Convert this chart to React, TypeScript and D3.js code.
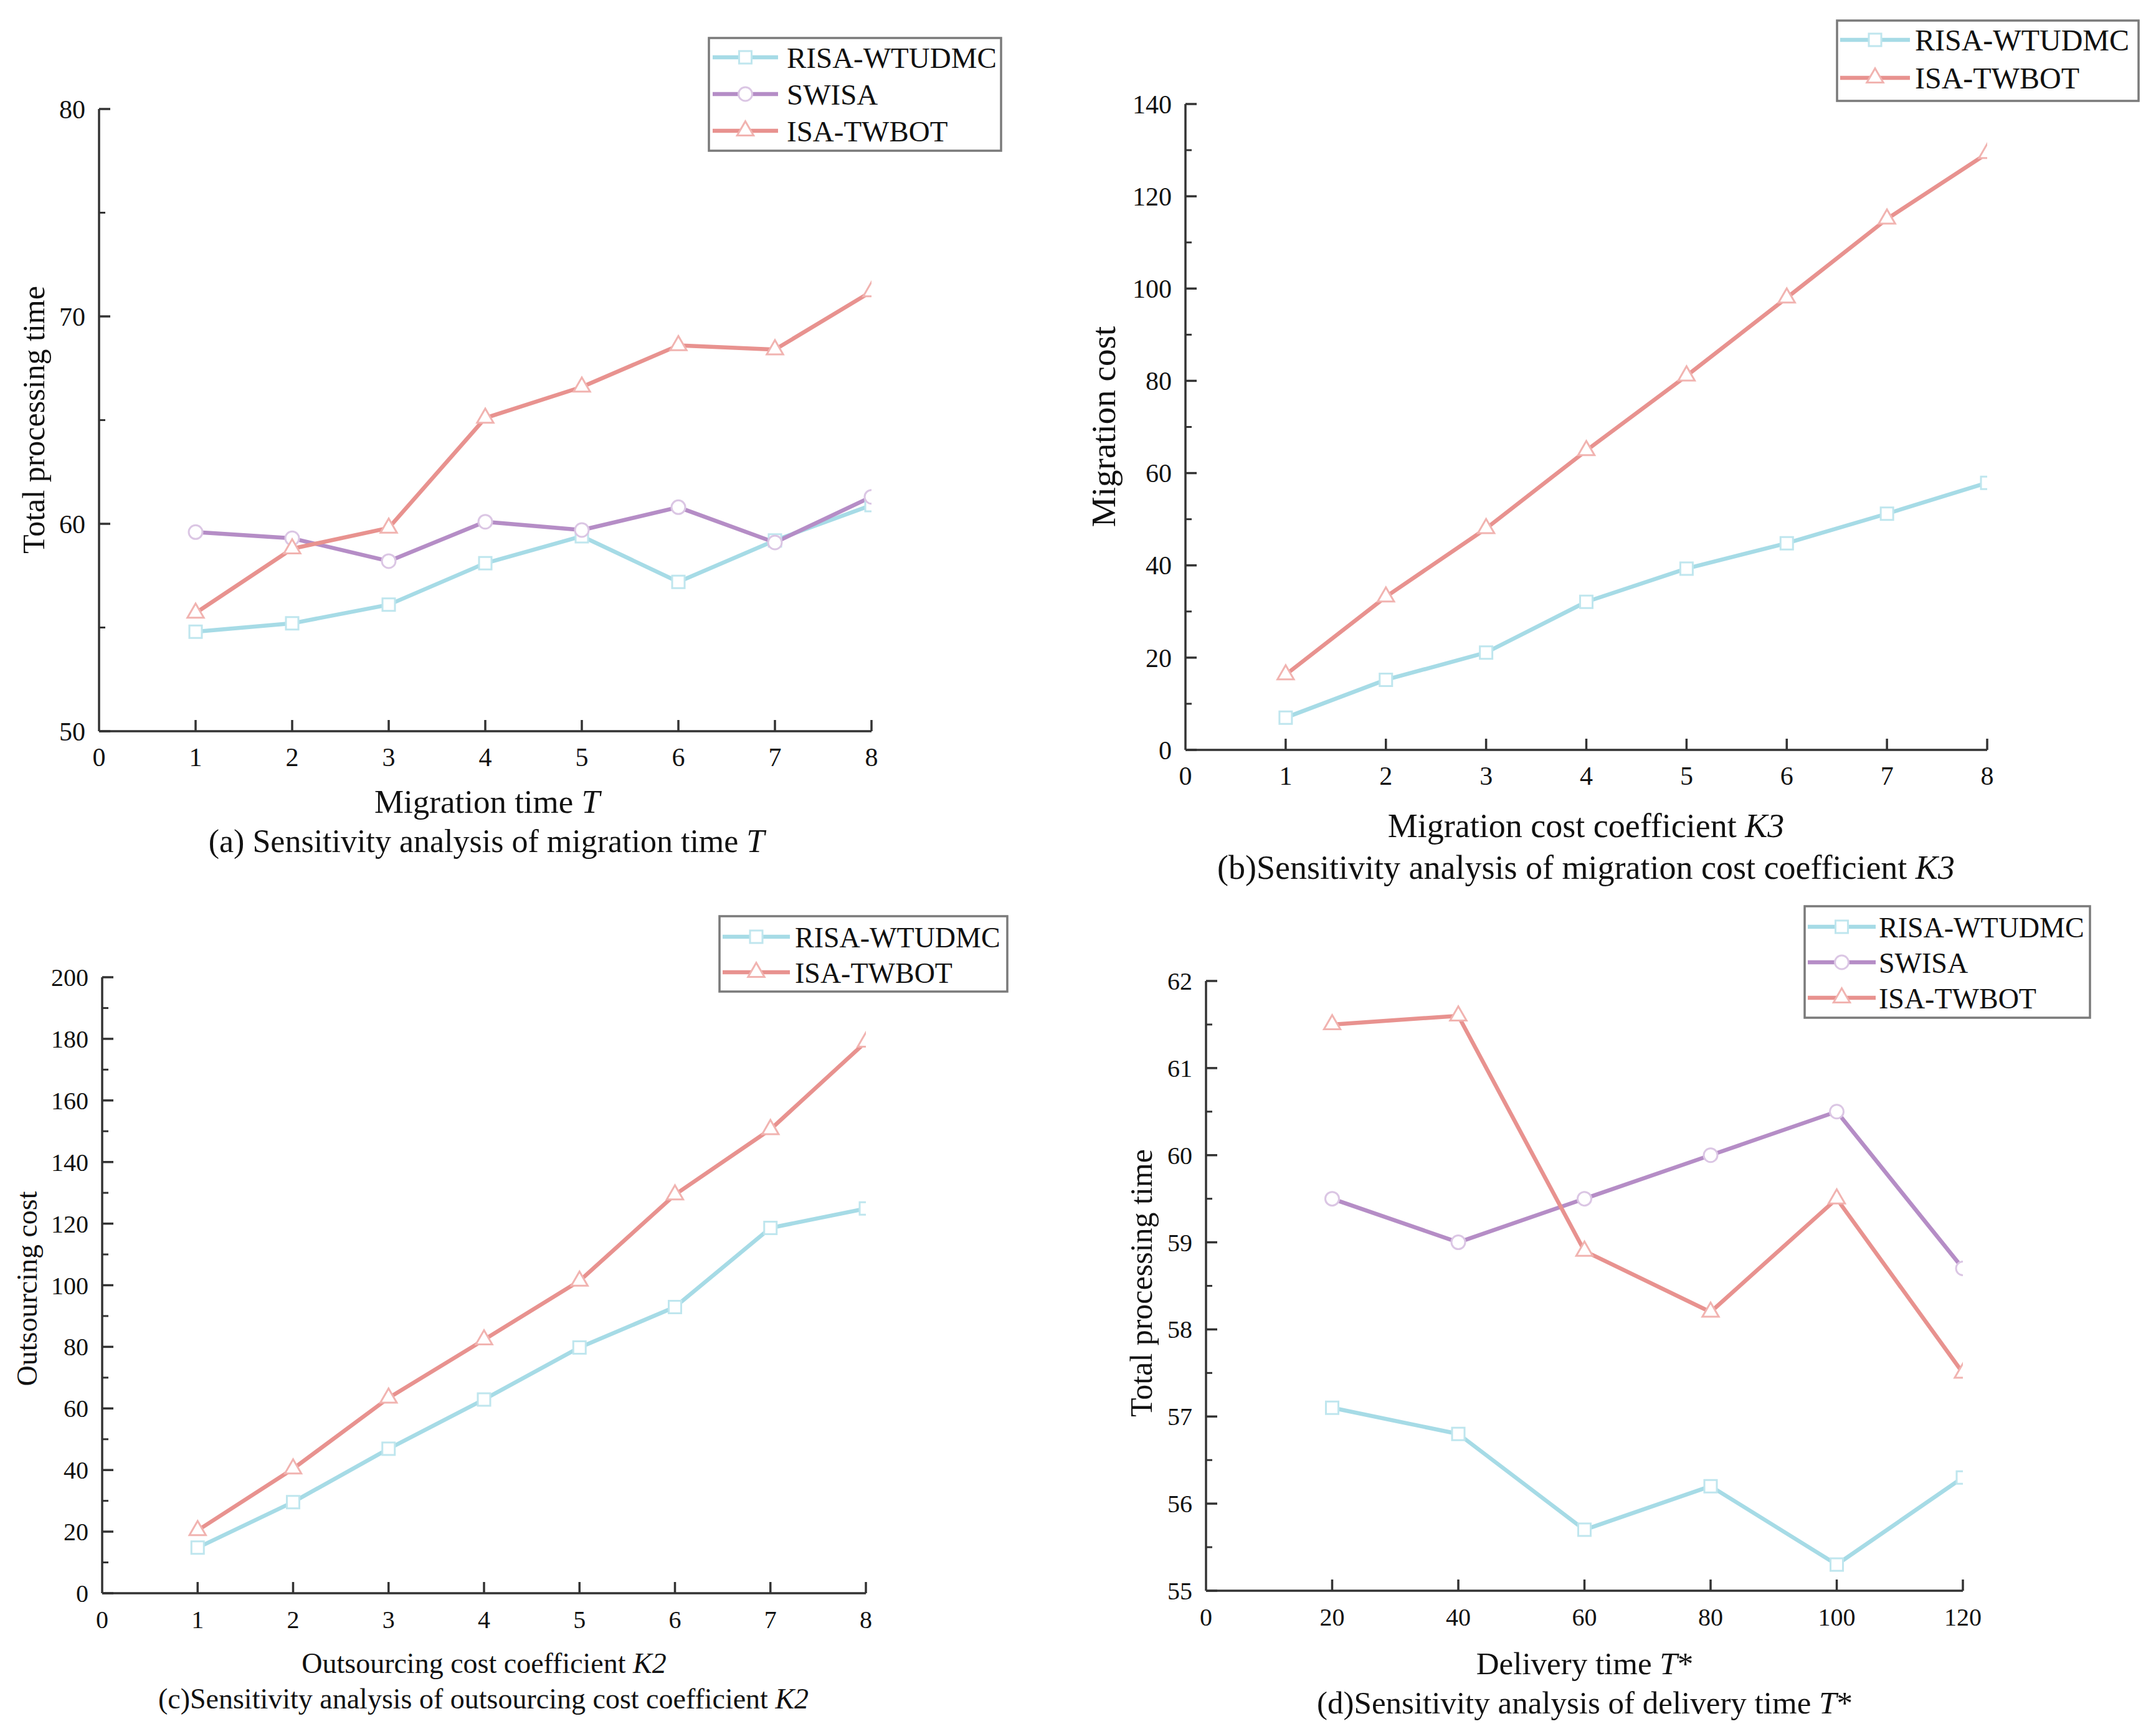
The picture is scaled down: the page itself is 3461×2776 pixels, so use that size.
import { useEffect, useRef } from "react";
import * as d3 from "d3";

// ---- data ----
const seriesNames = ["RISA-WTUDMC", "SWISA", "ISA-TWBOT"];

// (a) migration time T
const migrationTime = [1, 2, 3, 4, 5, 6, 7, 8];
const aRisa = [54.8, 55.2, 56.1, 58.1, 59.4, 57.2, 59.2, 60.9];
const aSwisa = [59.6, 59.3, 58.2, 60.1, 59.7, 60.8, 59.1, 61.3];
const aIsa = [55.7, 58.8, 59.8, 65.1, 66.6, 68.6, 68.4, 71.2];
const aXTicks = [0, 1, 2, 3, 4, 5, 6, 7, 8];
const aYTicks = [50, 60, 70, 80];
const aYMinor = [55, 65, 75];

// (b) migration cost coefficient K3
const k3 = [1, 2, 3, 4, 5, 6, 7, 8];
const bRisa = [7.0, 15.2, 21.1, 32.1, 39.3, 44.8, 51.2, 57.9];
const bIsa = [16.3, 33.2, 48.0, 64.9, 81.1, 98.0, 115.1, 129.3];
const bXTicks = [0, 1, 2, 3, 4, 5, 6, 7, 8];
const bYTicks = [0, 20, 40, 60, 80, 100, 120, 140];
const bYMinor = [10, 30, 50, 70, 90, 110, 130];

// (c) outsourcing cost coefficient K2
const k2 = [1, 2, 3, 4, 5, 6, 7, 8];
const cRisa = [14.8, 29.6, 46.9, 62.9, 79.8, 92.9, 118.6, 124.9];
const cIsa = [20.4, 40.4, 63.4, 82.3, 101.4, 129.4, 150.6, 179.0];
const cXTicks = [0, 1, 2, 3, 4, 5, 6, 7, 8];
const cYTicks = [0, 20, 40, 60, 80, 100, 120, 140, 160, 180, 200];
const cYMinor = [10, 30, 50, 70, 90, 110, 130, 150, 170, 190];

// (d) delivery time T*
const deliveryTime = [20, 40, 60, 80, 100, 120];
const dRisa = [57.1, 56.8, 55.7, 56.2, 55.3, 56.3];
const dSwisa = [59.5, 59.0, 59.5, 60.0, 60.5, 58.7];
const dIsa = [61.5, 61.6, 58.9, 58.2, 59.5, 57.5];
const dXTicks = [0, 20, 40, 60, 80, 100, 120];
const dYTicks = [55, 56, 57, 58, 59, 60, 61, 62];
const dYMinor = [55.5, 56.5, 57.5, 58.5, 59.5, 60.5, 61.5];

const lineColor: Record<string, string> = {
  "RISA-WTUDMC": "#a6dbe6",
  SWISA: "#b58dc6",
  "ISA-TWBOT": "#e8928f",
};
const markColor: Record<string, string> = {
  "RISA-WTUDMC": "#bfe6ee",
  SWISA: "#dbc6e4",
  "ISA-TWBOT": "#f1b3b0",
};
const markShape: Record<string, d3.SymbolType> = {
  "RISA-WTUDMC": d3.symbolSquare,
  SWISA: d3.symbolCircle,
  "ISA-TWBOT": d3.symbolTriangle,
};
const markSize: Record<string, number> = {
  "RISA-WTUDMC": 400,
  SWISA: 380,
  "ISA-TWBOT": 300,
};

const FONT = "'Liberation Serif', 'Times New Roman', serif";

interface Panel {
  id: string;
  box: { left: number; right: number; top: number; bottom: number };
  xDomain: [number, number];
  yDomain: [number, number];
  xTicks: number[];
  yTicks: number[];
  yMinor: number[];
  xs: number[];
  series: { name: string; values: number[] }[];
  tickFont: number;
  legend: { x0: number; y0: number; x1: number; y1: number; rows: number[]; lineX: [number, number]; textX: number; font: number };
  yTitle: { text: string; x: number; y: number; font: number };
  xTitle: { parts: [string, boolean][]; x: number; y: number; font: number };
  caption: { parts: [string, boolean][]; x: number; y: number; font: number };
}

const panels: Panel[] = [
  {
    id: "a",
    box: { left: 159, right: 1399, top: 175, bottom: 1174 },
    xDomain: [0, 8],
    yDomain: [50, 80],
    xTicks: aXTicks,
    yTicks: aYTicks,
    yMinor: aYMinor,
    xs: migrationTime,
    series: [
      { name: seriesNames[0], values: aRisa },
      { name: seriesNames[1], values: aSwisa },
      { name: seriesNames[2], values: aIsa },
    ],
    tickFont: 42,
    legend: { x0: 1138, y0: 61, x1: 1607, y1: 242, rows: [92, 151, 210], lineX: [1144, 1249], textX: 1263, font: 47 },
    yTitle: { text: "Total processing time", x: 71, y: 674, font: 50 },
    xTitle: { parts: [["Migration time ", false], ["T", true]], x: 782, y: 1305, font: 53 },
    caption: { parts: [["(a) Sensitivity analysis of migration time ", false], ["T", true]], x: 781, y: 1368, font: 52 },
  },
  {
    id: "b",
    box: { left: 1903, right: 3190, top: 167, bottom: 1204 },
    xDomain: [0, 8],
    yDomain: [0, 140],
    xTicks: bXTicks,
    yTicks: bYTicks,
    yMinor: bYMinor,
    xs: k3,
    series: [
      { name: seriesNames[0], values: bRisa },
      { name: seriesNames[2], values: bIsa },
    ],
    tickFont: 42,
    legend: { x0: 2949, y0: 33, x1: 3433, y1: 162, rows: [64, 125], lineX: [2954, 3066], textX: 3074, font: 48 },
    yTitle: { text: "Migration cost", x: 1790, y: 685, font: 55 },
    xTitle: { parts: [["Migration cost coefficient ", false], ["K3", true]], x: 2546, y: 1344, font: 54 },
    caption: { parts: [["(b)Sensitivity analysis of migration cost coefficient ", false], ["K3", true]], x: 2546, y: 1411, font: 54 },
  },
  {
    id: "c",
    box: { left: 164, right: 1390, top: 1569, bottom: 2558 },
    xDomain: [0, 8],
    yDomain: [0, 200],
    xTicks: cXTicks,
    yTicks: cYTicks,
    yMinor: cYMinor,
    xs: k2,
    series: [
      { name: seriesNames[0], values: cRisa },
      { name: seriesNames[2], values: cIsa },
    ],
    tickFont: 40,
    legend: { x0: 1155, y0: 1471, x1: 1617, y1: 1592, rows: [1504, 1561], lineX: [1160, 1268], textX: 1276, font: 46 },
    yTitle: { text: "Outsourcing cost", x: 59, y: 2069, font: 46 },
    xTitle: { parts: [["Outsourcing cost coefficient ", false], ["K2", true]], x: 777, y: 2686, font: 46 },
    caption: { parts: [["(c)Sensitivity analysis of outsourcing cost coefficient ", false], ["K2", true]], x: 776, y: 2743, font: 46 },
  },
  {
    id: "d",
    box: { left: 1936, right: 3151, top: 1575, bottom: 2554 },
    xDomain: [0, 120],
    yDomain: [55, 62],
    xTicks: dXTicks,
    yTicks: dYTicks,
    yMinor: dYMinor,
    xs: deliveryTime,
    series: [
      { name: seriesNames[0], values: dRisa },
      { name: seriesNames[1], values: dSwisa },
      { name: seriesNames[2], values: dIsa },
    ],
    tickFont: 40,
    legend: { x0: 2897, y0: 1455, x1: 3355, y1: 1634, rows: [1488, 1545, 1602], lineX: [2902, 3011], textX: 3016, font: 46 },
    yTitle: { text: "Total processing time", x: 1849, y: 2060, font: 50 },
    xTitle: { parts: [["Delivery time ", false], ["T", true], ["*", false]], x: 2544, y: 2688, font: 51 },
    caption: { parts: [["(d)Sensitivity analysis of delivery time ", false], ["T", true], ["*", false]], x: 2544, y: 2751, font: 51 },
  },
];

function drawPanel(root: d3.Selection<SVGSVGElement, unknown, null, undefined>, p: Panel) {
  const { left, right, top, bottom } = p.box;
  const x = d3.scaleLinear().domain(p.xDomain).range([left, right]);
  const y = d3.scaleLinear().domain(p.yDomain).range([bottom, top]);
  const g = root.append("g");
  const axisColor = "#333";

  // clip at the right end of the x axis (markers at the last point are cut)
  const clipId = `clip-${p.id}`;
  root
    .append("defs")
    .append("clipPath")
    .attr("id", clipId)
    .append("rect")
    .attr("x", left - 40)
    .attr("y", top - 60)
    .attr("width", right - left + 40)
    .attr("height", bottom - top + 100);

  // axes lines
  g.append("line").attr("x1", left).attr("x2", right).attr("y1", bottom).attr("y2", bottom)
    .attr("stroke", axisColor).attr("stroke-width", 3.5);
  g.append("line").attr("x1", left).attr("x2", left).attr("y1", bottom).attr("y2", top)
    .attr("stroke", axisColor).attr("stroke-width", 3.5);

  // x ticks (inward) and labels
  p.xTicks.forEach((t) => {
    if (t !== p.xDomain[0]) {
      g.append("line").attr("x1", x(t)).attr("x2", x(t)).attr("y1", bottom).attr("y2", bottom - 18)
        .attr("stroke", axisColor).attr("stroke-width", 3.5);
    }
    g.append("text").attr("x", x(t)).attr("y", bottom + 56).attr("text-anchor", "middle")
      .attr("font-family", FONT).attr("font-size", p.tickFont).attr("fill", "#111").text(String(t));
  });

  // y ticks
  p.yTicks.forEach((t) => {
    g.append("line").attr("x1", left).attr("x2", left + 18).attr("y1", y(t)).attr("y2", y(t))
      .attr("stroke", axisColor).attr("stroke-width", 3.5);
    g.append("text").attr("x", left - 22).attr("y", y(t)).attr("dy", "0.35em").attr("text-anchor", "end")
      .attr("font-family", FONT).attr("font-size", p.tickFont).attr("fill", "#111").text(String(t));
  });
  p.yMinor.forEach((t) => {
    g.append("line").attr("x1", left).attr("x2", left + 10).attr("y1", y(t)).attr("y2", y(t))
      .attr("stroke", axisColor).attr("stroke-width", 3);
  });

  // series
  const plot = g.append("g").attr("clip-path", `url(#${clipId})`);
  const line = d3.line<number>().x((_, i) => x(p.xs[i])).y((v) => y(v));
  p.series.forEach((s) => {
    plot.append("path").datum(s.values).attr("d", line).attr("fill", "none")
      .attr("stroke", lineColor[s.name]).attr("stroke-width", 6.5).attr("stroke-linejoin", "round");
  });
  p.series.forEach((s) => {
    const sym = d3.symbol().type(markShape[s.name]).size(markSize[s.name]);
    plot.selectAll(null).data(s.values).enter().append("path")
      .attr("d", sym)
      .attr("transform", (v, i) => `translate(${x(p.xs[i])},${y(v)})`)
      .attr("fill", "#fff").attr("stroke", markColor[s.name]).attr("stroke-width", 3);
  });

  // legend
  const L = p.legend;
  g.append("rect").attr("x", L.x0).attr("y", L.y0).attr("width", L.x1 - L.x0).attr("height", L.y1 - L.y0)
    .attr("fill", "#fff").attr("stroke", "#7a7a7a").attr("stroke-width", 3.5);
  p.series.forEach((s, i) => {
    const ry = L.rows[i];
    g.append("line").attr("x1", L.lineX[0]).attr("x2", L.lineX[1]).attr("y1", ry).attr("y2", ry)
      .attr("stroke", lineColor[s.name]).attr("stroke-width", 6.5);
    g.append("path").attr("d", d3.symbol().type(markShape[s.name]).size(markSize[s.name])())
      .attr("transform", `translate(${(L.lineX[0] + L.lineX[1]) / 2},${ry})`)
      .attr("fill", "#fff").attr("stroke", markColor[s.name]).attr("stroke-width", 3);
    g.append("text").attr("x", L.textX).attr("y", ry).attr("dy", "0.36em")
      .attr("font-family", FONT).attr("font-size", L.font).attr("fill", "#111").text(s.name);
  });

  // axis titles and caption
  g.append("text")
    .attr("transform", `translate(${p.yTitle.x},${p.yTitle.y}) rotate(-90)`)
    .attr("text-anchor", "middle").attr("font-family", FONT).attr("font-size", p.yTitle.font)
    .attr("fill", "#111").text(p.yTitle.text);

  [p.xTitle, p.caption].forEach((t) => {
    const txt = g.append("text").attr("x", t.x).attr("y", t.y).attr("text-anchor", "middle")
      .attr("font-family", FONT).attr("font-size", t.font).attr("fill", "#111");
    t.parts.forEach(([str, it]) => {
      txt.append("tspan").attr("font-style", it ? "italic" : "normal").text(str);
    });
  });
}

export default function App() {
  const svgRef = useRef<SVGSVGElement | null>(null);

  useEffect(() => {
    if (!svgRef.current) return;
    const svg = d3.select<SVGSVGElement, unknown>(svgRef.current);
    svg.selectAll("*").remove();
    svg.append("rect").attr("width", 3461).attr("height", 2776).attr("fill", "#fff");
    panels.forEach((p) => drawPanel(svg, p));
  }, []);

  return (
    <svg
      ref={svgRef}
      width={3461}
      height={2776}
      style={{ position: "absolute", left: 0, top: 0, display: "block" }}
    />
  );
}
